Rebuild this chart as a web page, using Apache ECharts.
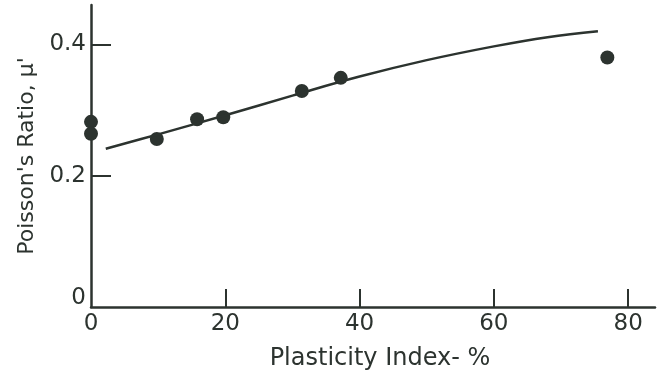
<!DOCTYPE html>
<html>
<head>
<meta charset="utf-8">
<script src="https://cdn.jsdelivr.net/npm/echarts@6/dist/echarts.min.js"></script>
<style>
html,body{margin:0;padding:0;background:#ffffff;}
#chart{width:663px;height:372px;}
</style>
</head>
<body>
<div id="chart"></div>
<script>
// Measured points: [plasticity index %, Poisson's ratio]
const pointX = [0, 0, 9.8, 15.8, 19.7, 31.4, 37.2, 76.9];
const pointY = [0.282, 0.264, 0.256, 0.286, 0.289, 0.329, 0.349, 0.380];
// Fitted curve
const curveX = [2.2, 10, 20, 30, 40, 50, 60, 68, 75.5];
const curveY = [0.241, 0.263, 0.292, 0.322, 0.351, 0.376, 0.397, 0.411, 0.420];
const xTickLabels = [0, 20, 40, 60, 80];
const yTickValues = [0.2, 0.4];
const yLabelValues = [0.014, 0.2, 0.4];

const ink = '#2c332f';
const font = 'DejaVu Sans';

const chart = echarts.init(document.getElementById('chart'));
chart.setOption({
  backgroundColor: '#ffffff',
  animation: false,
  grid: {left: 91, right: 8, top: 5, bottom: 65, containLabel: false, outerBoundsMode: 'none'},
  xAxis: {
    type: 'value', min: 0, max: 84,
    name: 'Plasticity Index- %', nameLocation: 'middle', nameGap: 40,
    nameTextStyle: {color: ink, fontFamily: font, fontSize: 24, padding: [0, 0, 0, 14]},
    axisLine: {show: true, onZero: false, lineStyle: {color: ink, width: 2.5}},
    axisTick: {show: true, inside: true, length: 18, customValues: xTickLabels.slice(1), lineStyle: {color: ink, width: 2}},
    axisLabel: {customValues: xTickLabels, color: ink, fontFamily: font, fontSize: 23, margin: 6},
    splitLine: {show: false}
  },
  yAxis: {
    type: 'value', min: 0, max: 0.46,
    name: "Poisson's Ratio, μ'", nameLocation: 'middle', nameGap: 44, nameRotate: 90,
    nameTextStyle: {color: ink, fontFamily: font, fontSize: 22},
    axisLine: {show: true, onZero: false, lineStyle: {color: ink, width: 2.5}},
    axisTick: {show: true, inside: true, length: 20, customValues: yTickValues, lineStyle: {color: ink, width: 2}},
    axisLabel: {customValues: yLabelValues, color: ink, fontFamily: font, fontSize: 23, margin: 5,
      formatter: v => (v < 0.1 ? '0' : v.toFixed(1))},
    splitLine: {show: false}
  },
  series: [
    {
      type: 'line', smooth: 0.4, showSymbol: false,
      data: curveX.map((x, i) => [x, curveY[i]]),
      lineStyle: {color: ink, width: 2.5}
    },
    {
      type: 'scatter', symbol: 'circle', symbolSize: 14,
      data: pointX.map((x, i) => [x, pointY[i]]),
      itemStyle: {color: ink, opacity: 1}
    }
  ]
});
</script>
</body>
</html>
